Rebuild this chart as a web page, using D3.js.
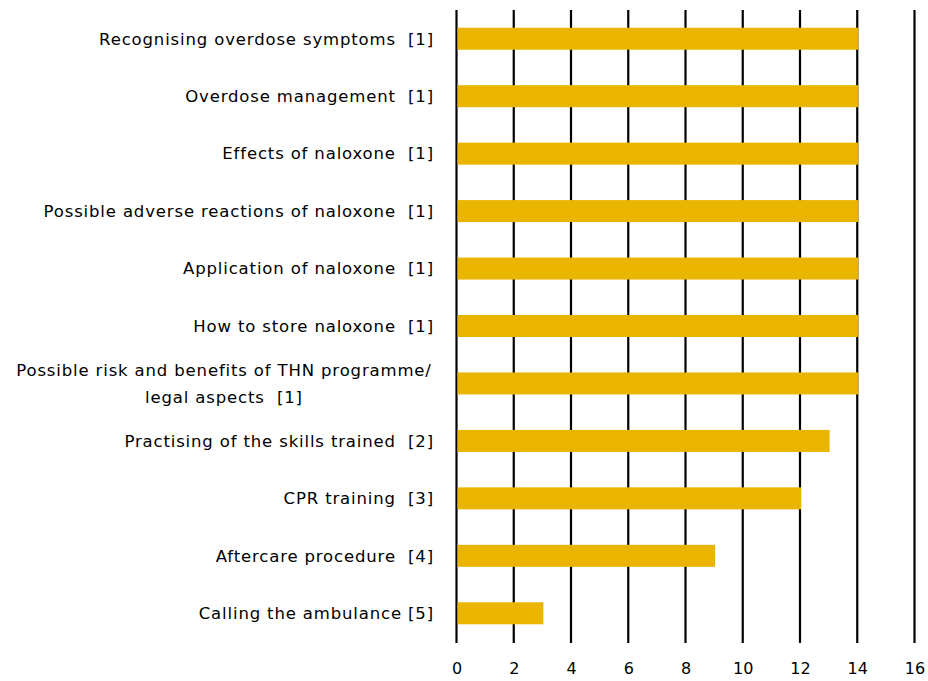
<!DOCTYPE html>
<html><head><meta charset="utf-8">
<script src="https://cdn.jsdelivr.net/npm/d3@7"></script>
<style>
body{margin:0;background:#fff;}
text{font-family:"DejaVu Sans",sans-serif;white-space:pre;}
</style></head>
<body><svg id="c" width="928" height="681"></svg>
<script>
const categories = [
  ["Recognising overdose symptoms  [1]"],
  ["Overdose management  [1]"],
  ["Effects of naloxone  [1]"],
  ["Possible adverse reactions of naloxone  [1]"],
  ["Application of naloxone  [1]"],
  ["How to store naloxone  [1]"],
  ["Possible risk and benefits of THN programme/", "legal aspects  [1]"],
  ["Practising of the skills trained  [2]"],
  ["CPR training  [3]"],
  ["Aftercare procedure  [4]"],
  ["Calling the ambulance [5]"]
];
const values = [14,14,14,14,14,14,14,13,12,9,3];
const xTicks = [0,2,4,6,8,10,12,14,16];

const svg = d3.select("#c");
const x = d3.scaleLinear().domain([0,16]).range([456.5,914.5]);
const y = d3.scaleBand().domain(d3.range(categories.length)).range([10,642])
  .paddingInner(0.617).paddingOuter(0.3085);

// gridlines
svg.append("g").selectAll("line").data(xTicks).join("line")
  .attr("x1",d=>x(d)).attr("x2",d=>x(d)).attr("y1",10).attr("y2",643)
  .attr("stroke","#000").attr("stroke-width",2.2);

// bars
svg.append("g").selectAll("rect").data(values).join("rect")
  .attr("x",x(0)+1).attr("y",(d,i)=>y(i))
  .attr("width",d=>x(d)-x(0)).attr("height",y.bandwidth())
  .attr("fill","#E9B500");

// x tick labels
const xa = svg.append("g").attr("transform","translate(0,643)")
  .call(d3.axisBottom(x).tickValues(xTicks).tickSize(0).tickPadding(20));
xa.select(".domain").remove();
xa.selectAll("text").attr("font-size",16).attr("font-family","DejaVu Sans").attr("fill","#000");

// category labels
const lg = svg.append("g");
categories.forEach((lines,i)=>{
  const cy = y(i)+y.bandwidth()/2;
  if(lines.length===1){
    lg.append("text").attr("x",434).attr("y",cy).attr("dy","0.35em")
      .attr("text-anchor","end").attr("font-size",16.5).attr("letter-spacing",0.85).text(lines[0]);
  } else {
    const t = lg.append("text").attr("text-anchor","middle").attr("font-size",16.5).attr("letter-spacing",0.85);
    lines.forEach((l,j)=>{
      t.append("tspan").attr("x",224).attr("y",cy+(j-(lines.length-1)/2)*27).attr("dy","0.35em").text(l);
    });
  }
});
</script></body></html>
